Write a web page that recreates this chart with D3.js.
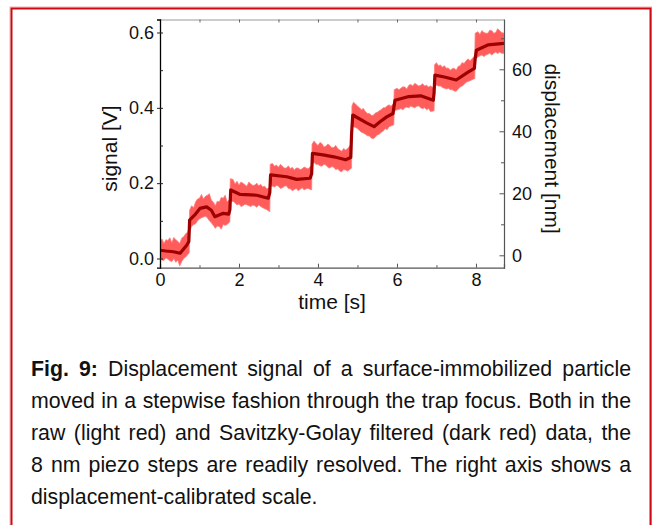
<!DOCTYPE html>
<html>
<head>
<meta charset="utf-8">
<script src="https://cdn.jsdelivr.net/npm/d3@7"></script>
<style>
  html, body { margin: 0; padding: 0; background: #fff; }
  svg { display: block; font-family: "Liberation Sans", Arial, sans-serif; }
</style>
</head>
<body>
<svg id="chart" width="652" height="525"></svg>
<script>
// ---------------- data ----------------
// Savitzky-Golay filtered signal (dark red), time [s] and signal [V]
const filtT = [0, 0.15, 0.34, 0.51, 0.68, 0.73, 0.75, 0.9, 1.01, 1.18, 1.3, 1.39, 1.6, 1.74, 1.77, 1.79, 2.03, 2.45, 2.74, 2.78, 2.8, 3.21, 3.46, 3.8, 3.84, 3.86, 4.13, 4.4, 4.7, 4.83, 4.85, 4.88, 5.23, 5.42, 5.57, 5.74, 5.9, 5.92, 5.95, 6.3, 6.6, 6.92, 6.94, 6.96, 7.2, 7.5, 7.8, 7.96, 7.98, 8.01, 8.3, 8.71];
const filtV = [0.022, 0.020, 0.018, 0.014, 0.036, 0.045, 0.102, 0.118, 0.133, 0.137, 0.128, 0.111, 0.120, 0.118, 0.130, 0.182, 0.170, 0.168, 0.160, 0.175, 0.222, 0.217, 0.210, 0.213, 0.225, 0.279, 0.275, 0.270, 0.262, 0.268, 0.330, 0.381, 0.360, 0.350, 0.363, 0.376, 0.385, 0.400, 0.420, 0.430, 0.432, 0.420, 0.440, 0.487, 0.482, 0.474, 0.495, 0.505, 0.530, 0.553, 0.567, 0.571];

// raw signal (light red): [time, upper envelope, lower envelope] of the noisy trace
const rawEnvelope = [
  [0.00,0.045,0.000],[0.05,0.052,-0.004],[0.10,0.040,-0.005],[0.15,0.050,0.002],[0.20,0.048,-0.002],[0.25,0.055,-0.006],[0.30,0.042,-0.008],[0.35,0.056,0.000],[0.40,0.050,-0.010],[0.45,0.046,-0.004],[0.50,0.040,-0.020],[0.55,0.054,-0.008],[0.60,0.058,0.000],[0.65,0.066,0.004],[0.70,0.070,0.010],[0.74,0.080,0.015],
  [0.75,0.128,0.072],[0.80,0.140,0.085],[0.85,0.135,0.090],[0.90,0.150,0.092],[0.95,0.158,0.100],[1.00,0.160,0.105],[1.05,0.170,0.108],[1.10,0.158,0.110],[1.15,0.165,0.112],[1.20,0.168,0.108],[1.25,0.172,0.100],[1.30,0.155,0.095],[1.35,0.150,0.088],[1.40,0.140,0.080],[1.45,0.152,0.086],[1.50,0.150,0.085],[1.55,0.162,0.078],[1.60,0.160,0.090],[1.65,0.168,0.088],[1.70,0.150,0.090],[1.77,0.158,0.098],
  [1.78,0.212,0.150],[1.85,0.210,0.152],[1.90,0.198,0.148],[1.95,0.205,0.142],[2.00,0.195,0.145],[2.05,0.203,0.138],[2.10,0.200,0.140],[2.15,0.196,0.144],[2.20,0.192,0.143],[2.25,0.203,0.140],[2.30,0.198,0.138],[2.35,0.194,0.142],[2.40,0.195,0.140],[2.45,0.200,0.136],[2.50,0.193,0.142],[2.55,0.197,0.138],[2.60,0.190,0.135],[2.65,0.192,0.132],[2.70,0.185,0.130],[2.78,0.188,0.124],
  [2.79,0.250,0.195],[2.85,0.252,0.192],[2.90,0.245,0.190],[2.95,0.248,0.194],[3.00,0.242,0.192],[3.05,0.250,0.186],[3.10,0.245,0.188],[3.15,0.240,0.192],[3.20,0.240,0.193],[3.25,0.246,0.186],[3.30,0.238,0.185],[3.35,0.242,0.180],[3.40,0.235,0.183],[3.45,0.240,0.186],[3.50,0.240,0.180],[3.55,0.236,0.184],[3.60,0.238,0.188],[3.65,0.243,0.182],[3.70,0.240,0.185],[3.75,0.238,0.186],[3.84,0.248,0.182],
  [3.85,0.303,0.250],[3.90,0.312,0.255],[3.95,0.305,0.250],[4.00,0.300,0.250],[4.05,0.308,0.246],[4.10,0.305,0.245],[4.15,0.296,0.250],[4.20,0.298,0.248],[4.25,0.304,0.242],[4.30,0.300,0.240],[4.35,0.294,0.244],[4.40,0.295,0.242],[4.45,0.300,0.236],[4.50,0.292,0.238],[4.55,0.288,0.232],[4.60,0.285,0.230],[4.65,0.292,0.236],[4.70,0.288,0.235],[4.75,0.292,0.232],[4.85,0.305,0.240],
  [4.86,0.405,0.345],[4.90,0.415,0.350],[4.95,0.410,0.348],[5.00,0.405,0.345],[5.05,0.400,0.340],[5.10,0.395,0.335],[5.15,0.398,0.333],[5.20,0.390,0.330],[5.25,0.385,0.326],[5.30,0.385,0.325],[5.35,0.380,0.320],[5.40,0.380,0.318],[5.45,0.386,0.322],[5.50,0.388,0.328],[5.55,0.392,0.330],[5.60,0.395,0.335],[5.65,0.400,0.338],[5.70,0.400,0.345],[5.75,0.405,0.342],[5.80,0.408,0.350],[5.85,0.404,0.352],[5.92,0.412,0.355],
  [5.93,0.448,0.390],[6.00,0.452,0.395],[6.05,0.448,0.396],[6.10,0.452,0.398],[6.15,0.456,0.395],[6.20,0.455,0.400],[6.25,0.450,0.402],[6.30,0.460,0.400],[6.35,0.462,0.405],[6.40,0.458,0.402],[6.45,0.465,0.400],[6.50,0.462,0.404],[6.55,0.458,0.405],[6.60,0.460,0.400],[6.65,0.464,0.398],[6.70,0.458,0.400],[6.75,0.460,0.395],[6.80,0.455,0.398],[6.85,0.458,0.390],[6.94,0.452,0.392],
  [6.95,0.514,0.458],[7.00,0.520,0.460],[7.05,0.512,0.458],[7.10,0.514,0.458],[7.15,0.508,0.454],[7.20,0.512,0.452],[7.25,0.505,0.450],[7.30,0.506,0.452],[7.35,0.500,0.448],[7.40,0.504,0.448],[7.45,0.505,0.445],[7.50,0.500,0.444],[7.55,0.510,0.450],[7.60,0.512,0.455],[7.65,0.520,0.458],[7.70,0.518,0.462],[7.75,0.525,0.468],[7.80,0.530,0.470],[7.85,0.525,0.472],[7.97,0.538,0.478],
  [7.98,0.598,0.530],[8.05,0.602,0.535],[8.10,0.595,0.538],[8.15,0.605,0.540],[8.20,0.600,0.536],[8.25,0.598,0.540],[8.30,0.598,0.542],[8.35,0.606,0.545],[8.40,0.605,0.540],[8.45,0.598,0.545],[8.50,0.600,0.548],[8.55,0.610,0.544],[8.60,0.605,0.548],[8.65,0.600,0.545],[8.71,0.598,0.545]
];

const xTicks = [0, 2, 4, 6, 8];
const xMinor = [1, 3, 5, 7];
const yTicks = [0.0, 0.2, 0.4, 0.6];
const yMinor = [0.1, 0.3, 0.5];
const yTickLabels = ["0.0", "0.2", "0.4", "0.6"];
const rTicks = [0, 20, 40, 60];
const rMinor = [10, 30, 50, 70];

const xLabel = "time [s]";
const yLabel = "signal [V]";
const rLabel = "displacement [nm]";

const captionLines = [
  [{t: "Fig. 9:", b: true}, {t: " Displacement signal of a surface-immobilized particle"}],
  [{t: "moved in a stepwise fashion through the trap focus. Both in the"}],
  [{t: "raw (light red) and Savitzky-Golay filtered (dark red) data, the"}],
  [{t: "8 nm piezo steps are readily resolved. The right axis shows a"}],
  [{t: "displacement-calibrated scale."}]
];

// ---------------- layout ----------------
const svg = d3.select("#chart");
const L = 160, R = 504, T = 19.5, B = 267.7;

const x = d3.scaleLinear().domain([0, 8.71]).range([L, R]);
const y = d3.scaleLinear().domain([-0.0244, 0.6345]).range([B, T]);
const yR = d3.scaleLinear().domain([-4.0, 76.06]).range([B, T]);

// border
svg.append("rect").attr("x", 10).attr("y", 7).attr("width", 641.5).attr("height", 560)
  .attr("fill", "none").attr("stroke", "#f2b3b3").attr("stroke-width", 1);
svg.append("rect").attr("x", 11.5).attr("y", 8.5).attr("width", 639).attr("height", 560)
  .attr("fill", "none").attr("stroke", "#cc0a14").attr("stroke-width", 2);

// clip
svg.append("clipPath").attr("id", "clip").append("rect")
  .attr("x", L).attr("y", T).attr("width", R - L).attr("height", B - T);

const plot = svg.append("g").attr("clip-path", "url(#clip)");

plot.append("path")
  .datum(rawEnvelope)
  .attr("fill", "#ff5c5c")
  .attr("stroke", "#ff7d7d")
  .attr("stroke-width", 0.8)
  .attr("d", d3.area().x(d => x(d[0])).y0(d => y(d[2])).y1(d => y(d[1])));

const filtData = filtT.map((t, i) => ({t, v: filtV[i]}));
plot.append("path")
  .datum(filtData)
  .attr("fill", "none")
  .attr("stroke", "#9e0000")
  .attr("stroke-width", 3.2)
  .attr("stroke-linejoin", "round")
  .attr("d", d3.line().x(d => x(d.t)).y(d => y(d.v)));

// ---------------- axes ----------------
const axFont = 18;
const styleText = g => g.selectAll("text").attr("font-size", axFont)
  .attr("font-family", "Liberation Sans, Arial, sans-serif").attr("fill", "#111");

// bottom: minor ticks
svg.append("g").attr("transform", `translate(0,${B})`)
  .call(d3.axisBottom(x).tickValues(xMinor).tickSize(-2.5).tickFormat(""))
  .call(g => g.select(".domain").remove())
  .call(g => g.selectAll("line").attr("stroke", "#555"));
// bottom: major ticks + labels
svg.append("g").attr("transform", `translate(0,${B})`)
  .call(d3.axisBottom(x).tickValues(xTicks).tickSize(-4).tickPadding(6).tickFormat(d3.format("d")))
  .call(styleText)
  .call(g => g.selectAll("line").attr("stroke", "#555"))
  .call(g => g.select(".domain").attr("stroke", "#555").attr("stroke-width", 1.2));

// top
svg.append("g").attr("transform", `translate(0,${T})`)
  .call(d3.axisTop(x).tickValues(xTicks.concat(xMinor)).tickSize(-3).tickFormat(""))
  .call(g => g.selectAll("line").attr("stroke", "#666"))
  .call(g => g.select(".domain").attr("stroke", "#999"));

// left
svg.append("g").attr("transform", `translate(${L},0)`)
  .call(d3.axisLeft(y).tickValues(yTicks).tickSize(3).tickPadding(3)
    .tickFormat((d, i) => yTickLabels[i]))
  .call(styleText)
  .call(g => g.selectAll("line").attr("stroke", "#222"))
  .call(g => g.select(".domain").attr("stroke", "#000").attr("stroke-width", 1.3));
svg.append("g").attr("transform", `translate(${L},0)`)
  .call(d3.axisRight(y).tickValues(yTicks.concat(yMinor)).tickSize(3).tickFormat(""))
  .call(g => g.select(".domain").remove())
  .call(g => g.selectAll("line").attr("stroke", "#222"));

// right
svg.append("g").attr("transform", `translate(${R},0)`)
  .call(d3.axisRight(yR).tickValues(rTicks).tickSize(1).tickPadding(7).tickFormat(d3.format("d")))
  .call(styleText)
  .call(g => g.selectAll("line").attr("stroke", "#555"))
  .call(g => g.select(".domain").attr("stroke", "#555").attr("stroke-width", 1.2));
svg.append("g").attr("transform", `translate(${R},0)`)
  .call(d3.axisLeft(yR).tickValues(rTicks).tickSize(4.5).tickFormat(""))
  .call(g => g.select(".domain").remove())
  .call(g => g.selectAll("line").attr("stroke", "#555"));
svg.append("g").attr("transform", `translate(${R},0)`)
  .call(d3.axisLeft(yR).tickValues(rMinor.filter(v => v < 76)).tickSize(3).tickFormat(""))
  .call(g => g.select(".domain").remove())
  .call(g => g.selectAll("line").attr("stroke", "#555"));

// axis titles
const titleFont = 21;
svg.append("text").attr("x", (L + R) / 2).attr("y", 309)
  .attr("text-anchor", "middle").attr("font-size", titleFont).attr("fill", "#111").text(xLabel);
svg.append("text").attr("transform", `translate(117,${(T + B) / 2 + 5}) rotate(-90)`)
  .attr("text-anchor", "middle").attr("font-size", titleFont).attr("fill", "#111").text(yLabel);
svg.append("text").attr("transform", `translate(545,${(T + B) / 2 + 5}) rotate(90)`)
  .attr("text-anchor", "middle").attr("font-size", titleFont).attr("fill", "#111").text(rLabel);

// ---------------- caption (justified) ----------------
const capFont = 21.3, capL = 31, capR = 631, capY0 = 376, capDY = 32;
captionLines.forEach((segs, li) => {
  const words = [];
  segs.forEach(s => s.t.split(" ").filter(w => w.length).forEach(w => words.push({w, b: !!s.b})));
  const yy = capY0 + li * capDY;
  const nodes = words.map(d => svg.append("text")
    .attr("y", yy).attr("font-size", capFont).attr("fill", "#111")
    .attr("font-weight", d.b ? "bold" : "normal").text(d.w));
  const widths = nodes.map(n => n.node().getComputedTextLength());
  const total = d3.sum(widths);
  const last = li === captionLines.length - 1;
  const gap = last ? capFont * 0.278 : Math.max(capFont * 0.2, (capR - capL - total) / (words.length - 1));
  let cx = capL;
  nodes.forEach((n, i) => { n.attr("x", cx); cx += widths[i] + gap; });
});
</script>
</body>
</html>
